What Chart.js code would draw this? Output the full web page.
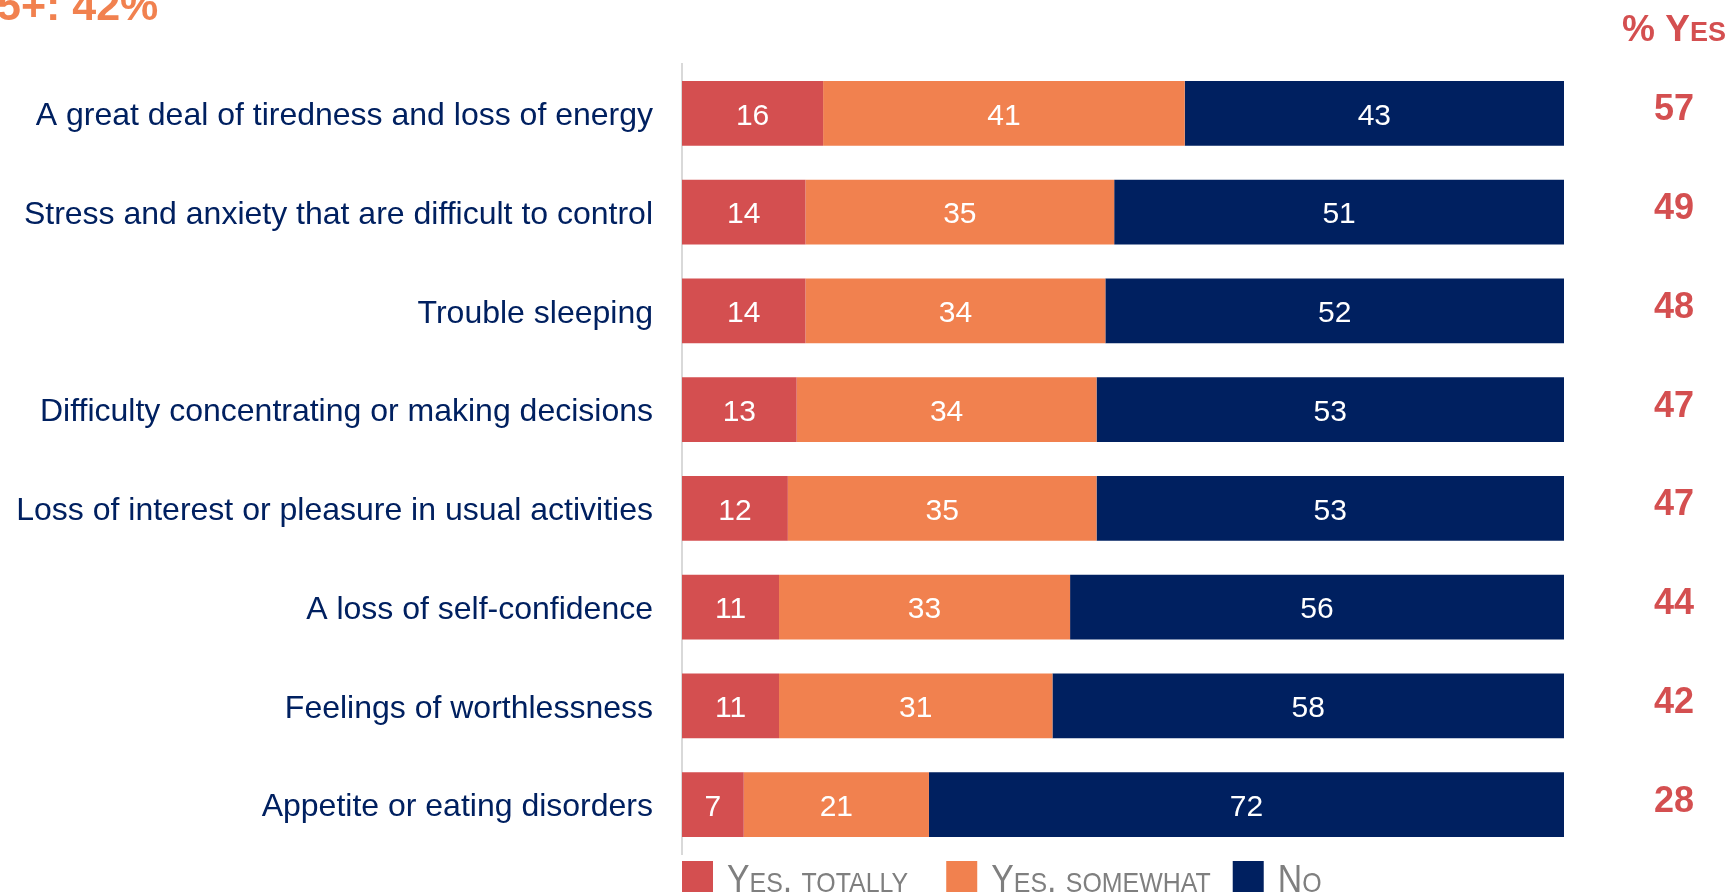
<!DOCTYPE html>
<html>
<head>
<meta charset="utf-8">
<script src="https://cdn.jsdelivr.net/npm/chart.js@4.4.0/dist/chart.umd.min.js"></script>
<style>
  html, body { margin: 0; padding: 0; background: #fff; }
  canvas { display: block; }
</style>
</head>
<body>
<canvas id="myChart" width="1732" height="892"></canvas>
<script>
var symptoms = [
  "A great deal of tiredness and loss of energy",
  "Stress and anxiety that are difficult to control",
  "Trouble sleeping",
  "Difficulty concentrating or making decisions",
  "Loss of interest or pleasure in usual activities",
  "A loss of self-confidence",
  "Feelings of worthlessness",
  "Appetite or eating disorders"
];
var yesTotally = [16, 14, 14, 13, 12, 11, 11, 7];
var yesSomewhat = [41, 35, 34, 34, 35, 33, 31, 21];
var no = [43, 51, 52, 53, 53, 56, 58, 72];
var percentYes = [57, 49, 48, 47, 47, 44, 42, 28];
var seriesNames = ["Yes, totally", "Yes, somewhat", "No"];
var colors = ["#D44F50", "#F1814F", "#002060"];
var FONT = "'Liberation Sans', Arial, sans-serif";

// draws text in small caps: lowercase letters become smaller capitals
function smallCaps(ctx, text, x, y, big, small, weight, align, sx) {
  var runs = [];
  for (var i = 0; i < text.length; i++) {
    var ch = text[i];
    var isSmall = ch !== ch.toUpperCase();
    var last = runs[runs.length - 1];
    if (last && last.small === isSmall) last.text += ch.toUpperCase();
    else runs.push({ text: ch.toUpperCase(), small: isSmall });
  }
  var total = 0;
  runs.forEach(function (r) {
    ctx.font = weight + " " + (r.small ? small : big) + "px " + FONT;
    r.w = ctx.measureText(r.text).width;
    total += r.w;
  });
  var start = x;
  if (align === "center") start = x - total * sx / 2;
  else if (align === "right") start = x - total * sx;
  ctx.save();
  ctx.translate(start, y);
  ctx.scale(sx, 1);
  ctx.textAlign = "left";
  var off = 0;
  runs.forEach(function (r) {
    ctx.font = weight + " " + (r.small ? small : big) + "px " + FONT;
    ctx.fillText(r.text, off, 0);
    off += r.w;
  });
  ctx.restore();
  return total * sx;
}

var overlay = {
  id: "overlay",
  afterDatasetsDraw: function (chart) {
    var ctx = chart.ctx, area = chart.chartArea, yScale = chart.scales.y;
    ctx.save();

    // values inside the segments
    ctx.fillStyle = "#fff";
    ctx.font = "30px " + FONT;
    ctx.textAlign = "center";
    ctx.textBaseline = "middle";
    chart.data.datasets.forEach(function (ds, i) {
      chart.getDatasetMeta(i).data.forEach(function (bar, j) {
        var c = bar.getCenterPoint();
        ctx.fillText(ds.data[j], c.x, c.y + 3);
      });
    });

    // % yes column on the right
    var colX = area.right + 110;
    ctx.fillStyle = colors[0];
    ctx.font = "bold 36px " + FONT;
    percentYes.forEach(function (v, j) {
      ctx.fillText(v, colX, yScale.getPixelForValue(j) - 3);
    });
    ctx.textBaseline = "alphabetic";
    smallCaps(ctx, "% Yes", colX, 41, 37, 27, "bold", "center", 1);

    // heading, runs off the top left corner
    ctx.fillStyle = colors[1];
    ctx.font = "bold 43px " + FONT;
    ctx.textAlign = "left";
    ctx.fillText("5+: 42%", -3, 20);

    // legend
    var lx = area.left;
    var gaps = [38, 22];
    chart.data.datasets.forEach(function (ds, i) {
      ctx.fillStyle = ds.backgroundColor;
      ctx.fillRect(lx, 861, 31, 31);
      ctx.fillStyle = "#7F7F7F";
      var w = smallCaps(ctx, ds.label, lx + 45, 892, 38, 28, "normal", "left", 0.89);
      lx += 45 + w + (gaps[i] || 0);
    });

    ctx.restore();
  }
};

var ctx = document.getElementById("myChart").getContext("2d");
var myChart = new Chart(ctx, {
  type: "bar",
  data: {
    labels: symptoms,
    datasets: [yesTotally, yesSomewhat, no].map(function (d, i) {
      return {
        label: seriesNames[i],
        data: d,
        backgroundColor: colors[i],
        borderWidth: 0,
        categoryPercentage: 1,
        barPercentage: 0.658
      };
    })
  },
  options: {
    responsive: false,
    animation: false,
    indexAxis: "y",
    layout: { padding: { left: 0, right: 168, top: 64, bottom: 38 } },
    plugins: {
      legend: { display: false },
      tooltip: { enabled: false }
    },
    scales: {
      x: { stacked: true, min: 0, max: 100, display: false },
      y: {
        stacked: true,
        grid: { display: false, drawTicks: false },
        border: { color: "#D9D9D9", width: 2 },
        ticks: { color: "#002060", font: { family: FONT, size: 32 }, padding: 29, labelOffset: 3 },
        afterFit: function (scale) {
          scale.width = 682;
          scale.paddingTop = 0;
          scale.paddingBottom = 0;
        }
      }
    }
  },
  plugins: [overlay]
});
</script>
</body>
</html>
